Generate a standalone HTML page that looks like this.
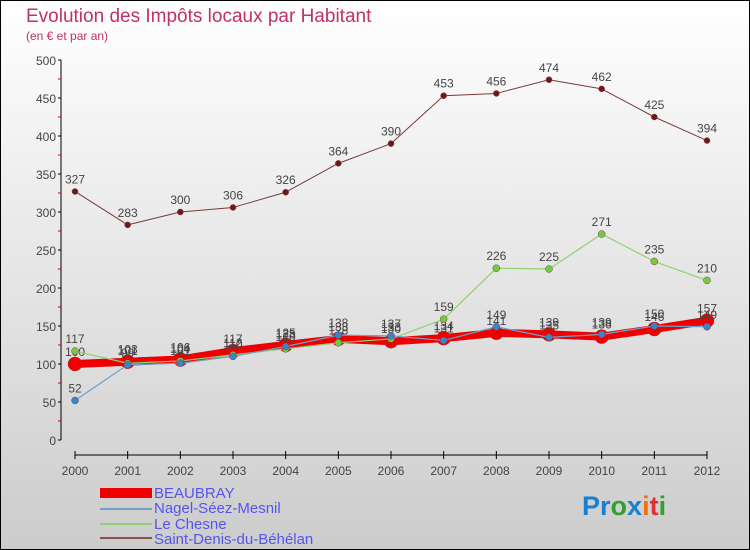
<!DOCTYPE html>
<html><head><meta charset="utf-8"><style>
body{margin:0;width:750px;height:550px;overflow:hidden}
svg{display:block;font-family:"Liberation Sans",sans-serif}
</style></head><body>
<svg id="c" width="750" height="550">
<defs><linearGradient id="bg" x1="0" y1="0" x2="0" y2="1"><stop offset="0" stop-color="#ffffff"/><stop offset="1" stop-color="#cccccc"/></linearGradient></defs>
<rect x="0.5" y="0.5" width="749" height="549" fill="url(#bg)" stroke="#000"/>
<text x="26" y="22" font-size="19" fill="#c0306a">Evolution des Impôts locaux par Habitant</text>
<text x="26" y="40" font-size="12" fill="#c0306a">(en € et par an)</text>
<g id="axes"></g><g id="series"></g>
<g>
<rect x="100" y="488" width="52" height="10" fill="#e00"/>
<line x1="100" y1="509" x2="152" y2="509" stroke="#6fa0cc" stroke-width="2"/>
<line x1="100" y1="524" x2="152" y2="524" stroke="#90d070" stroke-width="2"/>
<line x1="100" y1="538" x2="152" y2="538" stroke="#8a5050" stroke-width="2"/>
<g font-size="15" fill="#5555ee">
<text x="154" y="498">BEAUBRAY</text>
<text x="154" y="513">Nagel-Séez-Mesnil</text>
<text x="154" y="529">Le Chesne</text>
<text x="154" y="544">Saint-Denis-du-Béhélan</text>
</g></g>
<text x="582" y="515" font-size="27" font-weight="bold"><tspan fill="#1a7fd0">Pr</tspan><tspan fill="#30a030">o</tspan><tspan fill="#1a7fd0">x</tspan><tspan fill="#f07010">i</tspan><tspan fill="#e03030">t</tspan><tspan fill="#30a030">i</tspan></text>
</svg>
<script>
const years=[2000,2001,2002,2003,2004,2005,2006,2007,2008,2009,2010,2011,2012];
const yTicks=[0,50,100,150,200,250,300,350,400,450,500];
const beaubray=[100,103,106,117,125,133,130,134,141,139,136,146,157];
const nagel=[52,99,101,110,123,138,137,131,149,135,139,150,149];
const chesne=[117,101,104,112,120,128,133,159,226,225,271,235,210];
const stdenis=[327,283,300,306,326,364,390,453,456,474,462,425,394];
const NS='http://www.w3.org/2000/svg';
const X=i=>75+i*(707-75)/(years.length-1);
const Y=v=>440-v*0.76;
function mk(t,a,p){const e=document.createElementNS(NS,t);for(const k in a)e.setAttribute(k,a[k]);p.appendChild(e);return e;}
const ax=document.getElementById('axes');
let l=mk('line',{x1:61,y1:Y(500),x2:61,y2:440,stroke:'#000'},ax);


l=mk('line',{x1:75,y1:455,x2:707,y2:455,stroke:'#000'},ax);


for(let v=0;v<=500;v+=25){mk('line',{x1:58,y1:Y(v),x2:61,y2:Y(v),stroke:v%50?'#d00':'#000'},ax);}
yTicks.forEach(v=>{const t=mk('text',{x:56,y:Y(v)+5,'text-anchor':'end','font-size':12,fill:'#444'},ax);t.textContent=v;

});
years.forEach((y,i)=>{mk('line',{x1:X(i),y1:451,x2:X(i),y2:459,stroke:'#000'},ax);const t=mk('text',{x:X(i),y:475,'text-anchor':'middle','font-size':12,fill:'#444'},ax);t.textContent=y;

});
const sg=document.getElementById('series');
function draw(d,name,col,w,r,pt){const g=mk('g',{},sg);


const p=mk('polyline',{points:d.map((v,i)=>X(i)+','+Y(v)).join(' '),fill:'none',stroke:col,'stroke-width':w,'stroke-linejoin':'round'},g);


d.forEach((v,i)=>{const c=mk('circle',{cx:X(i),cy:Y(v),r:r,fill:pt,stroke:'#933','stroke-width':0.5},g);


const t=mk('text',{x:X(i),y:Y(v)-8,'text-anchor':'middle','font-size':12,fill:'#444'},g);t.textContent=v;

});}
draw(stdenis,'saint-denis','#7a3a3a',1,3,'#6a1a1a');
draw(beaubray,'beaubray','#ee0000',8,7,'#ee0000');
draw(chesne,'le-chesne','#90d070',1.2,3.5,'#70cc40');
draw(nagel,'nagel','#6fa0cc',1.2,3.5,'#3388cc');
</script>
</body></html>
